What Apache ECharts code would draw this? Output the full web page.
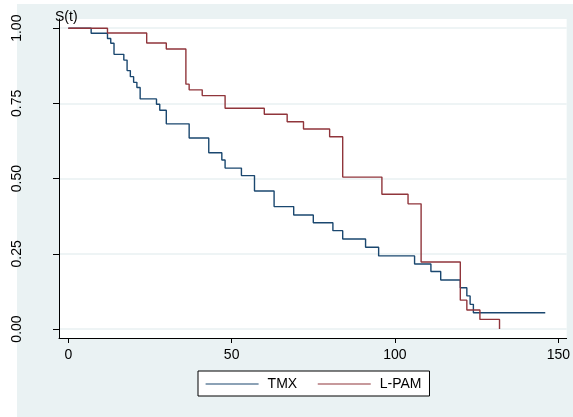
<!DOCTYPE html>
<html>
<head>
<meta charset="utf-8">
<script src="https://cdn.jsdelivr.net/npm/echarts@6/dist/echarts.min.js"></script>
<style>
  html, body { margin: 0; padding: 0; background: #ffffff; }
  #frame { position: absolute; left: 17px; top: 4px; width: 556px; height: 413px; background: #EAF2F3; }
  #chart { position: absolute; left: 0; top: 0; width: 573px; height: 417px; }
</style>
</head>
<body>
<div id="frame"></div>
<div id="chart"></div>
<script>
// Kaplan-Meier survival estimates by treatment group
const tmxTime = [0, 7, 12, 13, 14, 17, 18, 19, 20, 21, 22, 27, 28, 30, 37, 43, 47, 48, 53, 57,
                 63, 69, 75, 81, 84, 91, 95, 106, 111, 114, 120, 122, 123, 124, 146];
const tmxSurv = [1, 0.983, 0.966, 0.950, 0.913, 0.894, 0.859, 0.839, 0.820, 0.803, 0.765, 0.747,
                 0.727, 0.682, 0.635, 0.586, 0.562, 0.535, 0.510, 0.459, 0.407, 0.379, 0.353,
                 0.327, 0.299, 0.272, 0.243, 0.216, 0.191, 0.163, 0.137, 0.110, 0.082, 0.054, 0.054];

const lpamTime = [0, 12, 24, 30, 36, 37, 41, 48, 60, 67, 72, 80, 84, 96, 104, 108, 120, 122, 126, 132];
const lpamSurv = [1, 0.984, 0.951, 0.931, 0.814, 0.795, 0.776, 0.734, 0.714, 0.689, 0.665, 0.639,
                  0.505, 0.448, 0.416, 0.223, 0.096, 0.063, 0.032, 0];

const seriesNames = ['TMX', 'L-PAM'];
const xTicks = [0, 50, 100, 150];
const yTicks = [0, 0.25, 0.5, 0.75, 1];

const FONT = '"Liberation Sans", Arial, Helvetica, sans-serif';

function pairs(ts, vs) {
  return ts.map((t, i) => [t, vs[i]]);
}

const chart = echarts.init(document.getElementById('chart'), null, { renderer: 'canvas' });

chart.setOption({
  animation: false,
  backgroundColor: 'transparent',
  textStyle: { fontFamily: FONT },
  title: {
    text: 'S(t)',
    left: 55,
    top: 10,
    padding: 0,
    textStyle: { fontSize: 14, fontWeight: 'normal', color: '#000', fontFamily: FONT }
  },
  grid: {
    left: 59,
    right: 4,
    top: 19,
    height: 319,
    show: true,
    backgroundColor: '#ffffff',
    borderWidth: 0
  },
  xAxis: {
    type: 'value',
    min: -2.84,
    max: 152.55,
    axisLine: { show: true, onZero: false, lineStyle: { color: '#000', width: 1 } },
    axisTick: { show: true, length: 5, customValues: xTicks, lineStyle: { color: '#000' } },
    axisLabel: {
      customValues: xTicks,
      margin: 10,
      fontSize: 14,
      color: '#000',
      fontFamily: FONT
    },
    splitLine: { show: false }
  },
  yAxis: {
    type: 'value',
    min: -0.0299,
    max: 1.0306,
    axisLine: { show: true, onZero: false, lineStyle: { color: '#000', width: 1 } },
    axisTick: { show: true, length: 6, customValues: yTicks, lineStyle: { color: '#000' } },
    axisLabel: {
      customValues: yTicks,
      rotate: 90,
      margin: 35,
      fontSize: 14,
      color: '#000',
      fontFamily: FONT,
      formatter: v => v.toFixed(2)
    },
    splitLine: { show: true, lineStyle: { color: '#E9F1F2', width: 1.5 } }
  },
  legend: {
    data: seriesNames,
    left: 198,
    top: 371,
    orient: 'horizontal',
    itemWidth: 53,
    itemHeight: 14,
    itemGap: 20,
    padding: [6, 8, 5, 7],
    borderColor: '#000',
    borderWidth: 1,
    borderRadius: 0,
    backgroundColor: '#ffffff',
    itemStyle: { opacity: 0 },
    lineStyle: { width: 1.2 },
    textStyle: { fontSize: 14, color: '#000', fontFamily: FONT, padding: [0, 0, 0, 4] }
  },
  series: [
    {
      name: seriesNames[0],
      type: 'line',
      step: 'end',
      symbol: 'none',
      data: pairs(tmxTime, tmxSurv),
      lineStyle: { color: '#1A476F', width: 1.4 },
      itemStyle: { color: '#1A476F' }
    },
    {
      name: seriesNames[1],
      type: 'line',
      step: 'end',
      symbol: 'none',
      data: pairs(lpamTime, lpamSurv),
      lineStyle: { color: '#90353B', width: 1.4 },
      itemStyle: { color: '#90353B' }
    }
  ]
});
</script>
</body>
</html>
